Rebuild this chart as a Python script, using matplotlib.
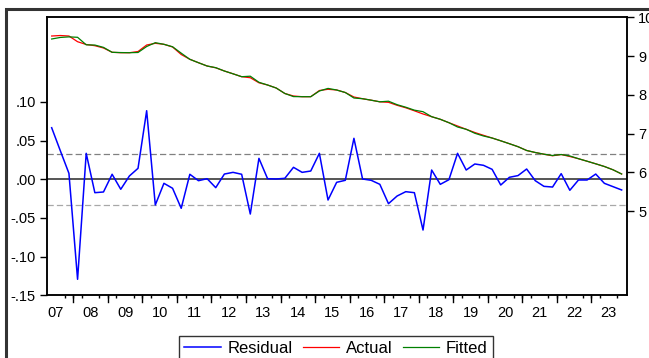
import matplotlib
matplotlib.use('Agg')
import matplotlib.pyplot as plt
from matplotlib.patches import Rectangle
import numpy as np

plt.rcParams['font.family'] = ['Liberation Sans', 'DejaVu Sans']
plt.rcParams['font.size'] = 10.5

# quarterly observations 2007Q2 .. 2023Q4
residual = [0.0667, 0.037, 0.0077, -0.1293, 0.0336, -0.0173, -0.0164, 0.0065, -0.0129, 0.0043,
            0.0142, 0.0887, -0.0332, -0.0052, -0.0116, -0.0375, 0.0065, -0.0018, 0.0008, -0.0108,
            0.0068, 0.0090, 0.0065, -0.0449, 0.0271, 0.0008, 0.0004, 0.0013, 0.0155, 0.0090,
            0.0107, 0.0336, -0.0268, -0.0039, -0.0013, 0.0530, 0.0004, -0.0013, -0.0065, -0.0315,
            -0.0216, -0.0160, -0.0173, -0.0656, 0.0120, -0.0065, -0.0005, 0.0336, 0.0120, 0.0198,
            0.0181, 0.0129, -0.0074, 0.0026, 0.0048, 0.0133, -0.0018, -0.0091, -0.0100, 0.0073,
            -0.0142, -0.0009, -0.0009, 0.0068, -0.0052, -0.0095, -0.0138]

actual = [9.517, 9.530, 9.517, 9.370, 9.298, 9.267, 9.208, 9.097, 9.086, 9.086,
          9.117, 9.285, 9.329, 9.303, 9.234, 9.040, 8.916, 8.828, 8.743, 8.697,
          8.614, 8.542, 8.467, 8.441, 8.310, 8.253, 8.175, 8.034, 7.969, 7.951,
          7.951, 8.111, 8.142, 8.124, 8.059, 7.943, 7.899, 7.861, 7.819, 7.806,
          7.729, 7.665, 7.587, 7.505, 7.435, 7.368, 7.280, 7.195, 7.110, 7.027,
          6.955, 6.885, 6.813, 6.738, 6.661, 6.563, 6.511, 6.467, 6.426, 6.459,
          6.408, 6.351, 6.286, 6.219, 6.150, 6.065, 5.956]

fitted = [9.440, 9.480, 9.495, 9.484, 9.290, 9.284, 9.224, 9.097, 9.090, 9.086,
          9.092, 9.246, 9.345, 9.303, 9.240, 9.075, 8.916, 8.828, 8.743, 8.700,
          8.614, 8.542, 8.467, 8.480, 8.323, 8.253, 8.175, 8.034, 7.954, 7.951,
          7.951, 8.098, 8.165, 8.124, 8.059, 7.917, 7.899, 7.861, 7.819, 7.835,
          7.745, 7.680, 7.604, 7.564, 7.435, 7.368, 7.280, 7.169, 7.110, 7.007,
          6.937, 6.885, 6.813, 6.738, 6.661, 6.563, 6.511, 6.467, 6.434, 6.459,
          6.422, 6.351, 6.286, 6.219, 6.150, 6.065, 5.956]

se = 0.0327
year_labels = ['07', '08', '09', '10', '11', '12', '13', '14', '15',
               '16', '17', '18', '19', '20', '21', '22', '23']
left_ticks = [-0.15, -0.10, -0.05, 0.0, 0.05, 0.10]
left_labels = ['-.15', '-.10', '-.05', '.00', '.05', '.10']
right_ticks = [5, 6, 7, 8, 9, 10]

x = np.arange(len(residual))

fig = plt.figure(figsize=(6.49, 3.58), dpi=100)
# outer frame
fig.patches.append(Rectangle((6 / 649, -0.1), 1.2, 1 - 9 / 358 + 0.1, transform=fig.transFigure,
                             fill=False, edgecolor='#333333', linewidth=2.2))

ax = fig.add_axes([47 / 649, 1 - 295.3 / 358, 580 / 649, (295.3 - 17.3) / 358])
ax2 = ax.twinx()

ax.axhline(0, color='#555555', linewidth=1.4, zorder=1)
ax.axhline(se, color='#808080', linewidth=0.9, linestyle=(0, (5, 2.5)), zorder=1)
ax.axhline(-se, color='#a8a8a8', linewidth=0.9, linestyle=(0, (5, 2.5)), zorder=1)
l1, = ax.plot(x, residual, color='#0000ff', linewidth=1.1, zorder=3)

l2, = ax2.plot(x, actual, color='#ff0000', linewidth=0.9)
l3, = ax2.plot(x, fitted, color='#008000', linewidth=0.9)

ax.set_xlim(-0.54, 66.62)
ax.set_ylim(-0.15, 0.2095)
ax2.set_ylim(2.826, 10)

ax.set_yticks(left_ticks)
ax.set_yticklabels(left_labels)
ax2.set_yticks(right_ticks)
ax2.set_yticklabels([str(t) for t in right_ticks])

# year labels centred on each year, ticks between quarters
year_pos = [(i - 1) * 4 + 4.5 for i in range(len(year_labels))]
ax.set_xticks(year_pos)
ax.set_xticklabels(year_labels)
ax.tick_params(axis='x', which='major', length=0, pad=7.5)
ax.set_xticks([b for b in np.arange(0.5, 66, 1.0)], minor=True)
ax.tick_params(axis='x', which='minor', direction='out', length=2.5, width=1, color='black')
for b in np.arange(2.5, 66, 4.0):
    ax.plot([b, b], [0, -0.025], transform=ax.get_xaxis_transform(), color='black',
            linewidth=1, clip_on=False)

ax.tick_params(axis='y', direction='out', length=5, width=1, pad=3)
ax2.tick_params(axis='y', direction='out', length=5, width=1, pad=3)

for a in (ax, ax2):
    for s in a.spines.values():
        s.set_linewidth(1.1)
        s.set_color('black')

leg = fig.legend([l1, l2, l3], ['Residual', 'Actual', 'Fitted'], loc='upper center',
                 bbox_to_anchor=(336 / 649, 1 - 336 / 358), ncol=3, frameon=True,
                 fancybox=False, edgecolor='black', handlelength=2.2, handletextpad=0.4,
                 columnspacing=0.6, borderpad=0.3, borderaxespad=0, fontsize=12)
leg.get_frame().set_linewidth(1.0)

fig.savefig('out.png', dpi=100)
